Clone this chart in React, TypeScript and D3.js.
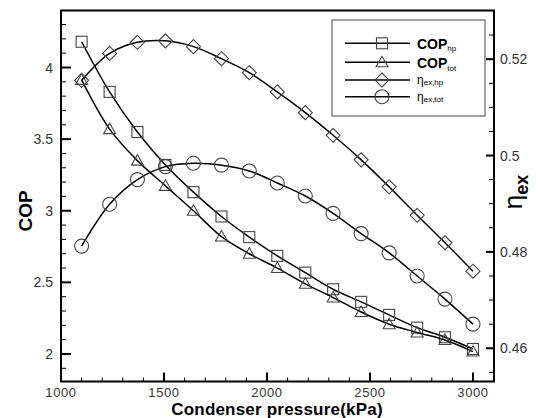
import React from 'react'
import * as d3 from 'd3'

// condenser pressure (kPa), 15 evenly spaced points
const pressure = [1100, 1236, 1371, 1507, 1643, 1779, 1914, 2050, 2186, 2321, 2457, 2593, 2729, 2864, 3000]

// left axis (COP)
const copHp = [4.18, 3.83, 3.55, 3.32, 3.13, 2.96, 2.816, 2.685, 2.568, 2.452, 2.364, 2.273, 2.184, 2.117, 2.035]
const copTot = [3.914, 3.57, 3.35, 3.174, 3.0, 2.82, 2.70, 2.60, 2.49, 2.394, 2.293, 2.208, 2.15, 2.098, 2.017]

// right axis (exergy efficiency)
const etaHp = [0.5156, 0.5212, 0.5235, 0.5238, 0.5226, 0.5201, 0.5172, 0.5132, 0.5089, 0.5042, 0.4991, 0.4935, 0.4876, 0.4819, 0.476]
const etaTot = [0.4812, 0.4899, 0.495, 0.4977, 0.4984, 0.498, 0.4968, 0.4943, 0.4916, 0.488, 0.4838, 0.4798, 0.475, 0.4702, 0.465]

const xTicks = [1000, 1500, 2000, 2500, 3000]
const copTicks = [2, 2.5, 3, 3.5, 4]
const etaTicks = [0.46, 0.48, 0.5, 0.52]

const W = 539
const H = 418
const L = 61, R = 494, T = 10.5, B = 381.5

const x = d3.scaleLinear().domain([1000, 3102]).range([L, R])
const yL = d3.scaleLinear().domain([1.808, 4.398]).range([B, T])
const yR = d3.scaleLinear().domain([0.4531, 0.5301]).range([B, T])

const MK = '#444'
const FONT = 'Arial, "Liberation Sans", sans-serif'

type Shape = 'square' | 'triangle' | 'diamond' | 'circle'

function Marker({ shape, cx, cy }: { shape: Shape; cx: number; cy: number }) {
  const p = { fill: 'none', stroke: MK, strokeWidth: 1.1 }
  if (shape === 'square') return <rect x={cx - 5.5} y={cy - 5.5} width={11} height={11} {...p} />
  if (shape === 'triangle')
    return <path d={`M${cx},${cy - 6}L${cx + 6},${cy + 4.5}L${cx - 6},${cy + 4.5}Z`} {...p} />
  if (shape === 'diamond')
    return <path d={`M${cx},${cy - 7}L${cx + 7},${cy}L${cx},${cy + 7}L${cx - 7},${cy}Z`} {...p} />
  return <circle cx={cx} cy={cy} r={7} {...p} />
}

const series: { vals: number[]; y: d3.ScaleLinear<number, number>; shape: Shape }[] = [
  { vals: copHp, y: yL, shape: 'square' },
  { vals: copTot, y: yL, shape: 'triangle' },
  { vals: etaHp, y: yR, shape: 'diamond' },
  { vals: etaTot, y: yR, shape: 'circle' },
]

export default function App() {
  const xMinor = d3.range(1000, 3101, 100)
  const lMinor = d3.range(19, 44).map((d) => d / 10)
  const rMinor = d3.range(91, 106).map((d) => d / 200)

  return (
    <svg width={W} height={H} style={{ position: 'absolute', left: 0, top: 0, background: '#fff' }} fontFamily={FONT}>
      {series.map((s, i) => {
        const line = d3
          .line<number>()
          .x((_, j) => x(pressure[j]))
          .y((d) => s.y(d))
          .curve(d3.curveCatmullRom)
        return (
          <g key={i}>
            <path d={line(s.vals) || ''} fill="none" stroke="#000" strokeWidth={1.5} />
            {s.vals.map((v, j) => (
              <Marker key={j} shape={s.shape} cx={x(pressure[j])} cy={s.y(v)} />
            ))}
          </g>
        )
      })}

      {/* ticks */}
      {xMinor.map((t) => (
        <line key={'xm' + t} x1={x(t)} x2={x(t)} y1={B} y2={B - (t % 500 === 0 ? 9 : 4)} stroke="#000" strokeWidth={t % 500 === 0 ? 2 : 1} />
      ))}
      {lMinor.map((t) => {
        const major = Math.abs(t * 2 - Math.round(t * 2)) < 1e-6
        return <line key={'lm' + t} x1={L} x2={L + (major ? 10 : 5)} y1={yL(t)} y2={yL(t)} stroke="#000" strokeWidth={major ? 2 : 1} />
      })}
      {rMinor.map((t) => {
        const major = Math.abs(t * 50 - Math.round(t * 50)) < 1e-6
        return <line key={'rm' + t} x1={R} x2={R - (major ? 8 : 5)} y1={yR(t)} y2={yR(t)} stroke="#000" strokeWidth={major ? 2 : 1} />
      })}

      {/* frame */}
      <rect x={L} y={T} width={R - L} height={B - T} fill="none" stroke="#000" strokeWidth={2} />

      {/* tick labels */}
      {xTicks.map((t) => (
        <text key={'xl' + t} x={x(t)} y={397} textAnchor="middle" fontSize={13} letterSpacing={0.6} fill="#333">{t}</text>
      ))}
      {copTicks.map((t) => (
        <text key={'cl' + t} x={53} y={yL(t) + 5} textAnchor="end" fontSize={14} fill="#333">{t}</text>
      ))}
      {etaTicks.map((t) => (
        <text key={'el' + t} x={500} y={yR(t) + 5} fontSize={14} fill="#333">{t}</text>
      ))}

      {/* axis titles */}
      <text x={277} y={415} textAnchor="middle" fontSize={17} fontWeight="bold" letterSpacing={0.2}>Condenser pressure(kPa)</text>
      <text transform="translate(32,211) rotate(-90)" textAnchor="middle" fontSize={19} fontWeight="bold">COP</text>
      <text transform="translate(522,192) rotate(-90)" textAnchor="middle" fontWeight="bold">
        <tspan fontSize={26} fontWeight="normal">η</tspan>
        <tspan fontSize={18} dy={6}>ex</tspan>
      </text>

      {/* legend */}
      <rect x={332} y={20} width={153} height={96} fill="#fff" stroke="#444" strokeWidth={1} />
      {series.map((s, i) => {
        const ly = [43.3, 62.3, 80, 96.7][i]
        return (
          <g key={'lg' + i}>
            <line x1={345} x2={410} y1={ly} y2={ly} stroke="#000" strokeWidth={1.5} />
            <Marker shape={s.shape} cx={382} cy={ly} />
          </g>
        )
      })}
      <text x={417} y={48.5} fontSize={14} fontWeight="bold">COP<tspan fontSize={8} fontWeight="normal" dy={2}>hp</tspan></text>
      <text x={417} y={67.5} fontSize={14} fontWeight="bold">COP<tspan fontSize={8} fontWeight="normal" dy={3}>tot</tspan></text>
      <text x={417} y={84} fontSize={12}>η<tspan fontSize={8} dy={1}>ex,hp</tspan></text>
      <text x={417} y={101} fontSize={12}>η<tspan fontSize={8} dy={1}>ex,tot</tspan></text>
    </svg>
  )
}
